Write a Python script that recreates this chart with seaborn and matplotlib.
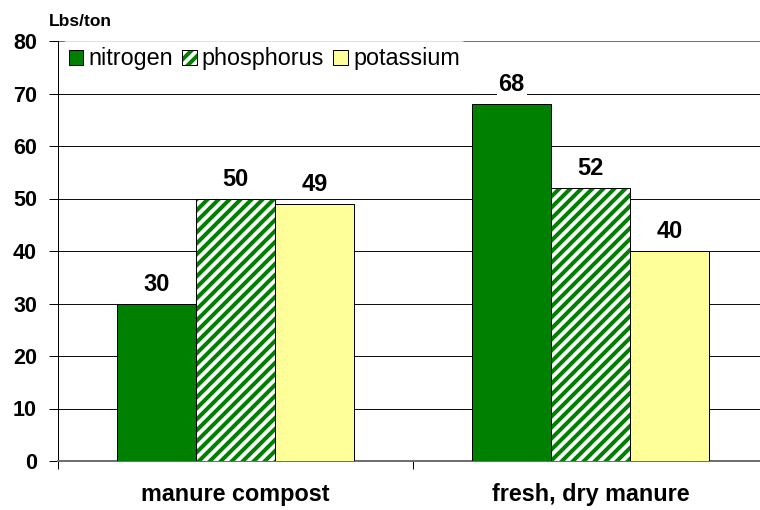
import matplotlib
matplotlib.use("Agg")
import matplotlib.pyplot as plt
import seaborn as sns
import pandas as pd
from matplotlib.patches import Patch, Rectangle

categories = ["manure compost", "fresh, dry manure"]
nutrients = ["nitrogen", "phosphorus", "potassium"]
nitrogen = [30, 68]
phosphorus = [50, 52]
potassium = [49, 40]
y_ticks = [0, 10, 20, 30, 40, 50, 60, 70, 80]

rows = []
for i, c in enumerate(categories):
    for n, vals in zip(nutrients, [nitrogen, phosphorus, potassium]):
        rows.append({"category": c, "nutrient": n, "value": vals[i]})
df = pd.DataFrame(rows)

DPI = 132
F = 100 / DPI  # convert sizes designed at 100 dpi


def px(v):
    return v * 72 / DPI


sns.set_theme(style="white")
plt.rcParams["font.family"] = ["Liberation Sans", "DejaVu Sans"]
plt.rcParams["text.color"] = "black"
plt.rcParams["xtick.color"] = "black"
plt.rcParams["ytick.color"] = "black"
plt.rcParams["xtick.labelcolor"] = "black"
plt.rcParams["ytick.labelcolor"] = "black"
plt.rcParams["hatch.linewidth"] = px(4.0)

GREEN = "#008000"
HATCH = "////"
fig = plt.figure(figsize=(760 / DPI, 510 / DPI), dpi=DPI)
ax = fig.add_axes([58/760, 49/510, 710/760, 420/510])

palette = {"nitrogen": GREEN, "phosphorus": "#FFFFFF", "potassium": "#FFFF99"}
sns.barplot(data=df, x="category", y="value", hue="nutrient", hue_order=nutrients,
            palette=palette, width=0.667, saturation=1, edgecolor="black",
            linewidth=px(1), ax=ax, legend=False, zorder=3)

for container, n in zip(ax.containers, nutrients):
    for bar in container:
        if n == "phosphorus":
            bar.set_hatch(HATCH)
            bar.set_edgecolor(GREEN)
            bar.set_linewidth(0)
            ax.add_patch(Rectangle((bar.get_x(), 0), bar.get_width(), bar.get_height(),
                                   fill=False, edgecolor="black", linewidth=px(1), zorder=3.5))
        h = bar.get_height()
        ax.text(bar.get_x() + bar.get_width()/2, h + 1.5, f"{int(h)}",
                ha="center", va="bottom", fontsize=17 * F, fontweight="bold", color="black",
                bbox=dict(facecolor="white", edgecolor="none", pad=px(2)), zorder=4)

ax.set_xlim(-0.5, 1.5)
ax.set_ylim(0, 80)
ax.set_yticks(y_ticks)
ax.set_yticklabels([str(t) for t in y_ticks], fontsize=15.5 * F, fontweight="bold")
ax.set_xticks([0, 1])
ax.set_xticklabels(categories, fontsize=16.8 * F, fontweight="bold")
ax.set_xticks([-0.5, 0.5, 1.5], minor=True)
ax.tick_params(axis="x", which="major", length=0, pad=px(22))
ax.tick_params(axis="x", which="minor", length=px(8), width=px(1), color="black",
               direction="out", bottom=True)
ax.tick_params(axis="y", length=px(9), width=px(1), color="black", direction="out",
               left=True, pad=px(12))
ax.set_xlabel("")
ax.set_ylabel("")

for t in y_ticks[1:]:
    ax.axhline(t, color="#707070" if t == 80 else "#101010", linewidth=px(1), zorder=1)

for s in ["top", "right"]:
    ax.spines[s].set_visible(False)
ax.spines["left"].set_color("black")
ax.spines["left"].set_linewidth(px(1))
ax.spines["bottom"].set_color("#707070")
ax.spines["bottom"].set_linewidth(px(2))

h_n = Patch(facecolor=GREEN, edgecolor="black", linewidth=px(1))
h_p = (Patch(facecolor="white", edgecolor=GREEN, hatch=HATCH, linewidth=0),
       Patch(facecolor="none", edgecolor="black", linewidth=px(1)))
h_k = Patch(facecolor="#FFFF99", edgecolor="black", linewidth=px(1))
leg = ax.legend(handles=[h_n, h_p, h_k], labels=nutrients, loc="upper left",
                bbox_to_anchor=(0.0, 1.01), ncol=3,
                frameon=True, fontsize=16.8 * F, handlelength=0.62, handleheight=0.62,
                handletextpad=0.22, columnspacing=0.4, borderpad=0.25, borderaxespad=0.2)
leg.get_frame().set_facecolor("white")
leg.get_frame().set_edgecolor("none")
leg.set_zorder(5)

fig.text(49/760, 1 - 21/510, "Lbs/ton", fontsize=12.5 * F, fontweight="bold",
         va="center", ha="left")

fig.savefig("out.png", dpi=DPI)
